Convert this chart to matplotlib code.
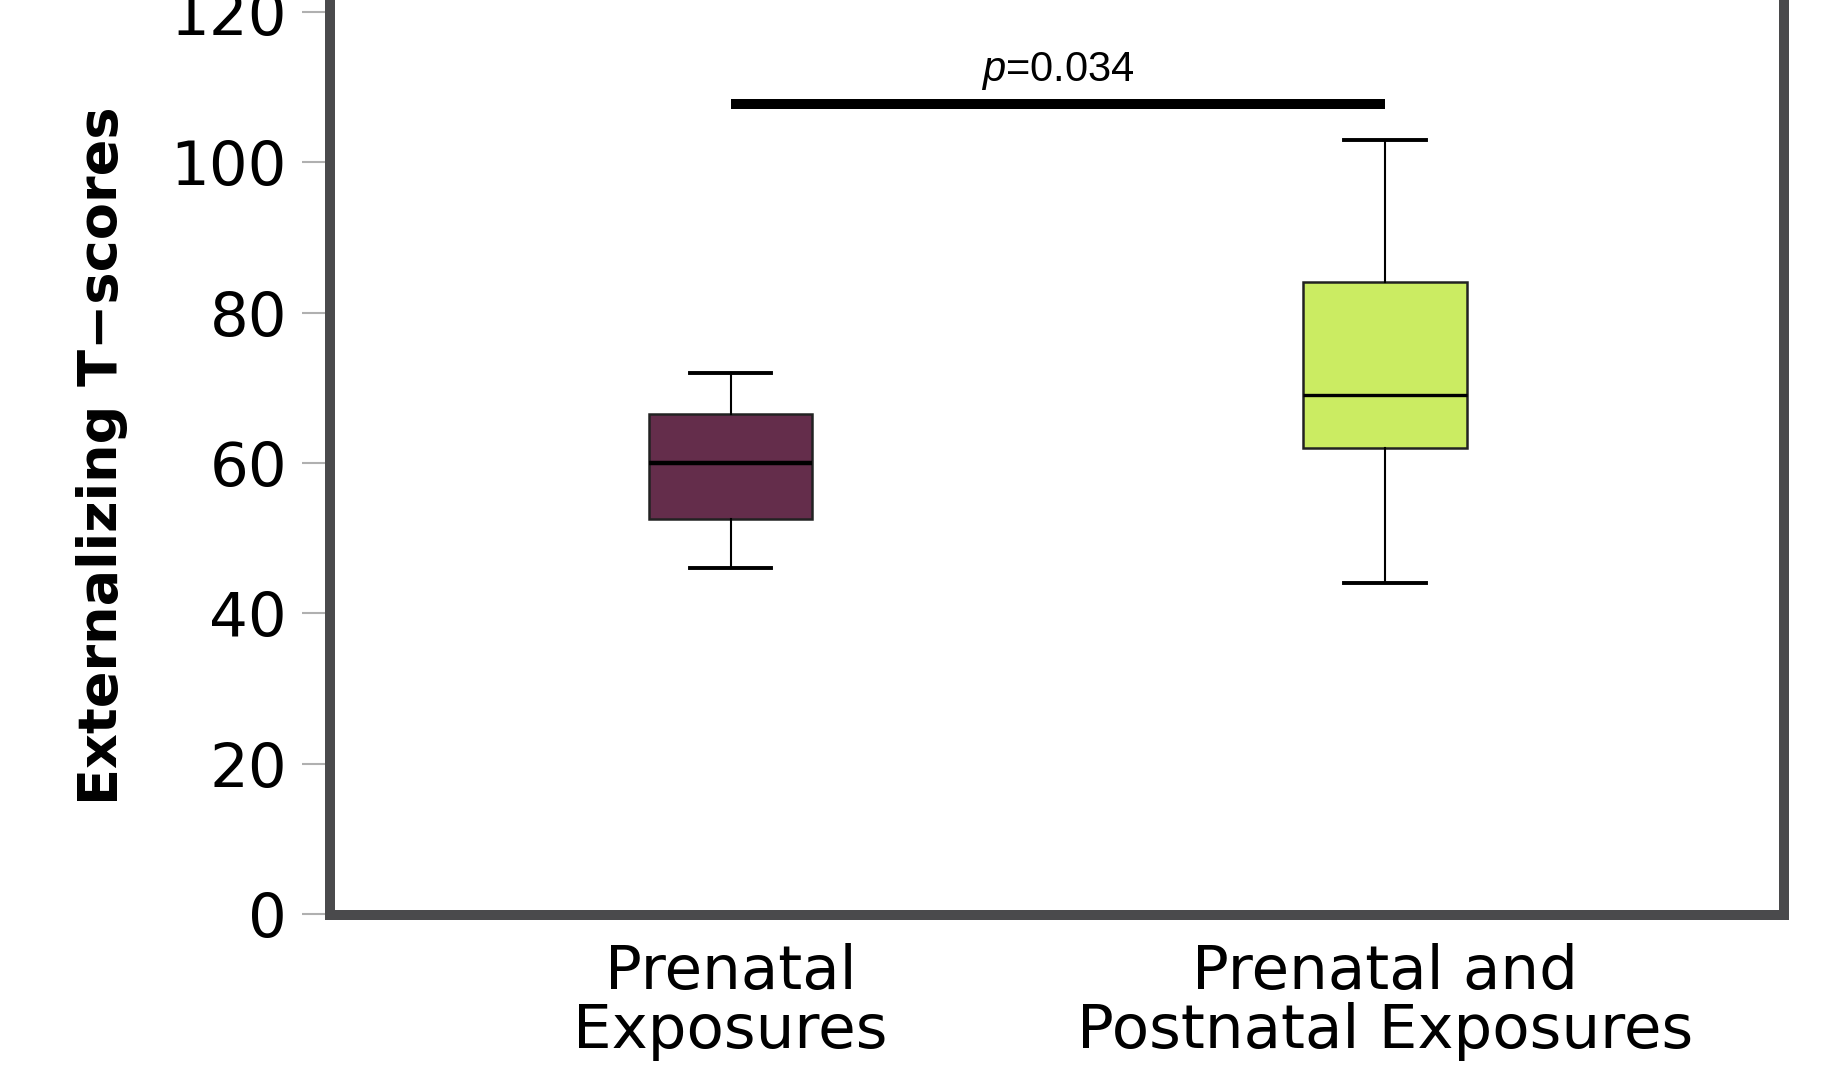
import matplotlib
matplotlib.use("Agg")
from matplotlib import pyplot as plt

plt.rcParams['mathtext.fontset'] = 'custom'
plt.rcParams['mathtext.it'] = 'Liberation Sans:italic'
plt.rcParams['mathtext.rm'] = 'Liberation Sans'

# summary statistics per exposure group
groups = ["Prenatal\nExposures", "Prenatal and\nPostnatal Exposures"]
whisker_low = [46, 44]
q1 = [52.5, 62]
median = [60, 69]
q3 = [66.5, 84]
whisker_high = [72, 103]
box_colors = ["#642d4b", "#cbec62"]

p_label = "$p$=0.034"
bar_y = 107.7
text_y = 112.1

stats = []
for i in range(len(groups)):
    stats.append({
        "whislo": whisker_low[i], "q1": q1[i], "med": median[i],
        "q3": q3[i], "whishi": whisker_high[i], "fliers": [],
    })

fig = plt.figure(figsize=(18.25, 10.71), dpi=100)
ax = fig.add_axes([0.1808, 0.1452, 0.797, 0.8585])

bp = ax.bxp(stats, positions=[1, 2], widths=0.25, patch_artist=True,
            boxprops=dict(edgecolor="#222222", linewidth=1.8),
            medianprops=dict(color="black", linewidth=3.2),
            whiskerprops=dict(color="black", linewidth=1.5),
            capprops=dict(color="black", linewidth=2.8))
for box, c in zip(bp["boxes"], box_colors):
    box.set_facecolor(c)
bp["medians"][1].set_linewidth(2.4)

# significance bar
ax.plot([1, 2], [bar_y, bar_y], color="black", linewidth=7.2, solid_capstyle="butt")
ax.text(1.5, text_y, p_label, ha="center", va="center", fontsize=30,
        family="Liberation Sans")

ax.set_xlim(0.388, 2.61)
ax.set_ylim(-0.2, 122.1)
ax.set_yticks([0, 20, 40, 60, 80, 100, 120])
ax.set_xticks([1, 2])
ax.set_xticklabels(groups, fontsize=44, linespacing=1.0)
ax.tick_params(axis="y", labelsize=44, length=20, width=1.5, color="#b0b0b0", pad=11)
ax.tick_params(axis="x", length=0, pad=20)

for s in ax.spines.values():
    s.set_color("#4a4a4c")
    s.set_linewidth(7.2)

ax.set_ylabel("Externalizing T\u2212scores", fontsize=39, fontweight="bold", va="center")
ax.yaxis.set_label_coords(-0.157, 0.5)

fig.savefig("out.png", dpi=100)
